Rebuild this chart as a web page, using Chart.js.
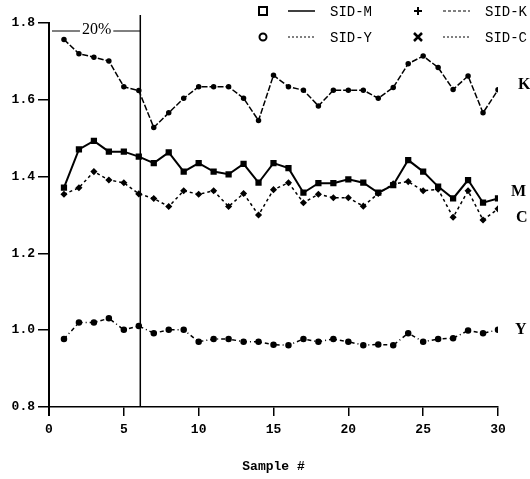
<!DOCTYPE html>
<html>
<head>
<meta charset="utf-8">
<script src="https://cdn.jsdelivr.net/npm/chart.js@4/dist/chart.umd.min.js"></script>
<style>
    html, body { margin: 0; padding: 0; background: #fff; }
    #wrap { width: 530px; height: 479px; }
</style>
</head>
<body>
<div id="wrap"><canvas id="chart" width="530" height="479"></canvas></div>
<script>
const samples = [1, 2, 3, 4, 5, 6, 7, 8, 9, 10, 11, 12, 13, 14, 15, 16, 17, 18, 19, 20, 21, 22, 23, 24, 25, 26, 27, 28, 29, 30]

const sidK = [1.757, 1.72, 1.711, 1.701, 1.634, 1.624, 1.528, 1.566, 1.604, 1.634,
    1.634, 1.634, 1.604, 1.546, 1.664, 1.634, 1.625, 1.584, 1.625, 1.625,
    1.625, 1.604, 1.632, 1.694, 1.714, 1.684, 1.627, 1.662, 1.566, 1.626]

const sidM = [1.371, 1.471, 1.493, 1.465, 1.465, 1.452, 1.435, 1.463, 1.413, 1.435,
    1.413, 1.406, 1.433, 1.384, 1.435, 1.422, 1.358, 1.383, 1.383, 1.393,
    1.384, 1.358, 1.378, 1.443, 1.413, 1.374, 1.343, 1.391, 1.332, 1.343]

const sidC = [1.354, 1.371, 1.413, 1.391, 1.384, 1.355, 1.343, 1.322, 1.363, 1.354,
    1.363, 1.322, 1.356, 1.300, 1.366, 1.384, 1.332, 1.354, 1.345, 1.345,
    1.323, 1.356, 1.381, 1.387, 1.363, 1.367, 1.294, 1.363, 1.287, 1.316]

const sidY = [0.977, 1.020, 1.020, 1.031, 1.001, 1.011, 0.992, 1.001, 1.001, 0.970,
    0.977, 0.977, 0.970, 0.970, 0.962, 0.961, 0.977, 0.970, 0.977, 0.970,
    0.961, 0.963, 0.961, 0.992, 0.970, 0.977, 0.979, 0.999, 0.992, 1.001]

const yTicks = [0.8, 1.0, 1.2, 1.4, 1.6, 1.8]
const xTicks = [0, 5, 10, 15, 20, 25, 30]

const cutoff = 6.1
const cutoffLabel = "20%"
const xTitle = "Sample #"

const mono = "'Liberation Mono', 'DejaVu Sans Mono', monospace"
const serif = "'Liberation Serif', 'DejaVu Serif', serif"

function toPoints(values) {
    return samples.map((s, i) => ({ x: s, y: values[i] }))
}

function drawMarker(ctx, kind, x, y) {
    ctx.save()
    ctx.strokeStyle = "#000"
    ctx.fillStyle = "#000"
    ctx.lineWidth = 2
    ctx.setLineDash([])
    ctx.beginPath()
    if (kind === "square") {
        ctx.strokeRect(x - 4, y - 4, 8, 8)
    } else if (kind === "circle") {
        ctx.arc(x, y, 3.5, 0, Math.PI * 2)
        ctx.stroke()
    } else if (kind === "plus") {
        ctx.moveTo(x - 4, y); ctx.lineTo(x + 4, y)
        ctx.moveTo(x, y - 4); ctx.lineTo(x, y + 4)
        ctx.stroke()
    } else {
        ctx.lineWidth = 2.5
        ctx.moveTo(x - 4, y - 4); ctx.lineTo(x + 4, y + 4)
        ctx.moveTo(x + 4, y - 4); ctx.lineTo(x - 4, y + 4)
        ctx.stroke()
    }
    ctx.restore()
}

const legendRows = [
    { marker: "square", dash: [], label: "SID-M", col: 0, row: 0 },
    { marker: "plus", dash: [3, 2], label: "SID-K", col: 1, row: 0 },
    { marker: "circle", dash: [2, 2], label: "SID-Y", col: 0, row: 1 },
    { marker: "cross", dash: [2, 2], label: "SID-C", col: 1, row: 1 }
]

const extras = {
    id: "extras",
    afterDraw(chart) {
        const ctx = chart.ctx
        const x = chart.scales.x
        const y = chart.scales.y
        const area = chart.chartArea

        ctx.save()
        ctx.strokeStyle = "#000"
        ctx.fillStyle = "#000"

        // y axis runs a little past the x axis
        ctx.lineWidth = 2
        ctx.beginPath()
        ctx.moveTo(area.left, area.bottom)
        ctx.lineTo(area.left, area.bottom + 9)
        ctx.stroke()

        // cutoff line + 20% bracket
        const cx = x.getPixelForValue(cutoff)
        ctx.lineWidth = 1.5
        ctx.beginPath()
        ctx.moveTo(cx, area.top - 8)
        ctx.lineTo(cx, area.bottom)
        ctx.stroke()

        ctx.font = "16px " + serif
        ctx.textAlign = "center"
        ctx.textBaseline = "middle"
        const mid = (area.left + cx) / 2 + 2
        const w = ctx.measureText(cutoffLabel).width
        const by = area.top + 8
        ctx.lineWidth = 1
        ctx.beginPath()
        ctx.moveTo(area.left + 3, by)
        ctx.lineTo(mid - w / 2 - 2, by)
        ctx.moveTo(mid + w / 2 + 2, by)
        ctx.lineTo(cx, by)
        ctx.stroke()
        ctx.fillText(cutoffLabel, mid, by - 1)

        // series tags on the right
        ctx.font = "bold 16px " + serif
        ctx.textAlign = "left"
        const tx = area.right
        ctx.fillText("K", tx + 20, y.getPixelForValue(1.638))
        ctx.fillText("M", tx + 13, y.getPixelForValue(1.36))
        ctx.fillText("C", tx + 18, y.getPixelForValue(1.293))
        ctx.fillText("Y", tx + 17, y.getPixelForValue(1.0))

        // legend
        ctx.font = "14px " + mono
        legendRows.forEach(item => {
            const lx = 263 + item.col * 155
            const ly = 11 + item.row * 26
            drawMarker(ctx, item.marker, lx, ly)
            ctx.save()
            ctx.lineWidth = item.dash.length ? 1 : 1.5
            ctx.setLineDash(item.dash)
            ctx.beginPath()
            ctx.moveTo(lx + 25, ly)
            ctx.lineTo(lx + 52, ly)
            ctx.stroke()
            ctx.restore()
            ctx.textAlign = "left"
            ctx.fillText(item.label, lx + 67, ly + 1)
        })

        ctx.restore()
    }
}

window.addEventListener("load", () => {
    const ctx = document.querySelector("#chart").getContext("2d")

    new Chart(ctx, {
        type: "line",
        data: {
            datasets: [
                {
                    label: "SID-Y",
                    data: toPoints(sidY),
                    borderColor: "#000",
                    backgroundColor: "#000",
                    borderWidth: 1.5,
                    borderDash: [4, 3, 1, 3],
                    pointStyle: "circle",
                    pointRadius: 2.5
                },
                {
                    label: "SID-C",
                    data: toPoints(sidC),
                    borderColor: "#000",
                    backgroundColor: "#000",
                    borderWidth: 1.5,
                    borderDash: [3, 3],
                    pointStyle: "rectRot",
                    pointRadius: 2.5
                },
                {
                    label: "SID-M",
                    data: toPoints(sidM),
                    borderColor: "#000",
                    backgroundColor: "#000",
                    borderWidth: 2,
                    pointStyle: "rect",
                    pointRadius: 3
                },
                {
                    label: "SID-K",
                    data: toPoints(sidK),
                    borderColor: "#000",
                    backgroundColor: "#000",
                    borderWidth: 1.5,
                    borderDash: [6, 2],
                    pointStyle: "circle",
                    pointRadius: 2
                }
            ]
        },
        options: {
            responsive: false,
            animation: false,
            layout: { padding: { top: 23, right: 32, left: 0, bottom: 0 } },
            plugins: {
                legend: { display: false },
                tooltip: { enabled: false }
            },
            scales: {
                x: {
                    type: "linear",
                    min: 0,
                    max: 30,
                    afterFit: scale => { scale.height = 72 },
                    afterBuildTicks: scale => { scale.ticks = xTicks.map(v => ({ value: v })) },
                    border: { display: true, color: "#000", width: 1.5 },
                    grid: { drawOnChartArea: false, color: "#000", lineWidth: 1.5, tickLength: 9 },
                    ticks: {
                        color: "#000",
                        padding: 6,
                        maxRotation: 0,
                        font: { family: mono, size: 13, weight: "bold" }
                    },
                    title: {
                        display: true,
                        text: xTitle,
                        color: "#000",
                        padding: { top: 0, bottom: 4 },
                        font: { family: mono, size: 13, weight: "bold" }
                    }
                },
                y: {
                    min: 0.8,
                    max: 1.8,
                    afterFit: scale => { scale.width = 49 },
                    afterBuildTicks: scale => { scale.ticks = yTicks.map(v => ({ value: v })) },
                    border: { display: true, color: "#000", width: 2 },
                    grid: { drawOnChartArea: false, color: "#000", lineWidth: 1.5, tickLength: 11 },
                    ticks: {
                        color: "#000",
                        padding: 3,
                        font: { family: mono, size: 13, weight: "bold" },
                        callback: v => v.toFixed(1)
                    }
                }
            }
        },
        plugins: [extras]
    })
})
</script>
</body>
</html>
